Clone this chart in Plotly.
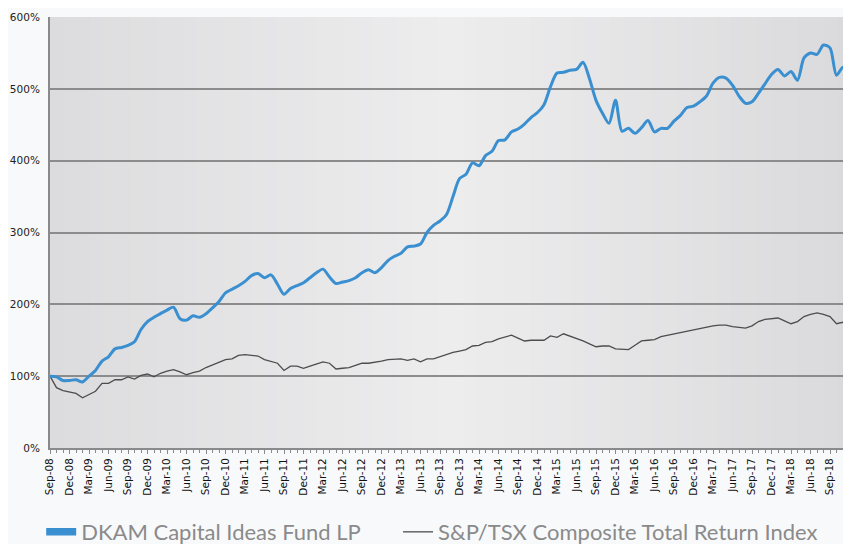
import plotly.graph_objects as go

# Monthly index: 0 = Sep-08 ... 124 = Jan-19
fund = [100, 99, 94, 94, 95, 92, 100, 108, 121, 127, 138, 140, 143, 148, 165, 176, 182, 187, 192, 196,
        180, 178, 184, 182, 187, 195, 204, 216, 221, 226, 232, 240, 243, 237, 241, 228, 214, 222, 226, 230,
        237, 244, 249, 238, 229, 231, 233, 237, 244, 248, 244, 251, 261, 267, 271, 280, 281, 284, 300, 310,
        316, 325, 350, 375, 381, 397, 393, 407, 413, 428, 429, 440, 444, 451, 460, 467, 478, 503, 522, 523,
        526, 527, 537, 514, 484, 466, 452, 484, 441, 445, 438, 446, 456, 440, 445, 445, 455, 463, 474, 476,
        482, 490, 508, 516, 515, 505, 490, 480, 482, 494, 507, 520, 527, 518, 524, 512, 543, 550, 548, 561,
        557, 519, 530, 500, 518]

index = [100, 84, 80, 78, 76, 70, 74, 79, 90, 90, 95, 95, 99, 96, 101, 103, 99, 104, 107, 109,
         106, 102, 105, 107, 112, 116, 119, 123, 124, 129, 130, 129, 128, 123, 120, 118, 108, 114, 114, 111,
         114, 117, 120, 118, 110, 111, 112, 115, 118, 118, 119, 121, 123, 124, 124, 122, 124, 120, 124, 124,
         127, 131, 133, 135, 137, 142, 143, 147, 148, 152, 155, 157, 153, 149, 150, 150, 150, 156, 154, 159,
         156, 152, 149, 145, 141, 142, 142, 138, 137, 137, 143, 149, 150, 151, 155, 157, 159, 160, 162, 165,
         167, 168, 170, 171, 171, 169, 168, 167, 170, 176, 179, 180, 181, 177, 173, 176, 183, 186, 188, 186,
         183, 173, 175, 166, 168]

quarter_labels = ["Sep-08", "Dec-08", "Mar-09", "Jun-09", "Sep-09", "Dec-09", "Mar-10", "Jun-10",
                  "Sep-10", "Dec-10", "Mar-11", "Jun-11", "Sep-11", "Dec-11", "Mar-12", "Jun-12",
                  "Sep-12", "Dec-12", "Mar-13", "Jun-13", "Sep-13", "Dec-13", "Mar-14", "Jun-14",
                  "Sep-14", "Dec-14", "Mar-15", "Jun-15", "Sep-15", "Dec-15", "Mar-16", "Jun-16",
                  "Sep-16", "Dec-16", "Mar-17", "Jun-17", "Sep-17", "Dec-17", "Mar-18", "Jun-18",
                  "Sep-18", "Dec-18"]

y_ticks = [0, 100, 200, 300, 400, 500, 600]
y_tick_labels = ["0%", "100%", "200%", "300%", "400%", "500%", "600%"]

months = list(range(len(fund)))
tick_positions = [3 * i for i in range(len(quarter_labels))]

BLUE = "#3a8fd0"
GREY_LINE = "#4d4d4d"

fig = go.Figure()

fig.add_trace(go.Scatter(x=months, y=index, mode="lines", name="S&P/TSX Composite Total Return Index",
                         line=dict(color=GREY_LINE, width=1.3), showlegend=False))
fig.add_trace(go.Scatter(x=months, y=fund, mode="lines", name="DKAM Capital Ideas Fund LP",
                         line=dict(color=BLUE, width=3, shape="spline", smoothing=0.8), showlegend=False))

# legend-only entries (two separate legends to reproduce the wide spacing)
fig.add_trace(go.Scatter(x=[None], y=[None], mode="lines", name="DKAM Capital Ideas Fund LP",
                         line=dict(color=BLUE, width=7.5), legend="legend"))
fig.add_trace(go.Scatter(x=[None], y=[None], mode="lines", name="S&P/TSX Composite Total Return Index",
                         line=dict(color=GREY_LINE, width=1.3), legend="legend2"))

# plot-area gradient background (left darker, middle lighter, right darker)
def lerp(c1, c2, t):
    return tuple(round(a + (b - a) * t) for a, b in zip(c1, c2))

stops = [(0.0, (220, 220, 222)), (0.5, (237, 237, 238)), (1.0, (218, 218, 220))]
n = 60
shapes = []
for i in range(n):
    f0, f1 = i / n, (i + 1) / n
    fm = (f0 + f1) / 2
    for (a, ca), (b, cb) in zip(stops[:-1], stops[1:]):
        if a <= fm <= b:
            c = lerp(ca, cb, (fm - a) / (b - a))
            break
    shapes.append(dict(type="rect", xref="x domain", yref="y domain", x0=f0, x1=f1 + 0.002, y0=0, y1=1,
                       fillcolor="rgb(%d,%d,%d)" % c, line=dict(width=0), layer="below"))

legend_font = dict(family="Lato, sans-serif", size=22, color="#8a8a8a")

fig.update_layout(
    width=843, height=536,
    margin=dict(l=42, r=0, t=9, b=96, autoexpand=False),
    paper_bgcolor="#f8f9fb",
    plot_bgcolor="#e6e6e7",
    shapes=shapes,
    font=dict(family="Open Sans, DejaVu Sans, sans-serif", color="#333333"),
    legend=dict(orientation="h", x=-0.011, xanchor="left", y=-0.195, yanchor="middle",
                font=legend_font, bgcolor="rgba(0,0,0,0)", itemwidth=30),
    legend2=dict(orientation="h", x=0.4345, xanchor="left", y=-0.195, yanchor="middle",
                 font=legend_font, bgcolor="rgba(0,0,0,0)", itemwidth=30),
    showlegend=True,
)

fig.update_xaxes(
    range=[0, 123.23],
    tickmode="array", tickvals=tick_positions, ticktext=quarter_labels,
    tickangle=-90, tickfont=dict(size=10.5, color="#111111", family="DejaVu Sans, sans-serif"),
    ticklabeloverflow="allow",
    ticks="outside", ticklen=4, tickcolor="#8a8a8a", tickwidth=1,
    minor=dict(dtick=1, tick0=0, ticks="outside", ticklen=2.5, tickcolor="#8a8a8a", tickwidth=1, showgrid=False),
    showgrid=False, zeroline=False,
    showline=True, linecolor="#8a8a8a", linewidth=2,
    fixedrange=True,
)

fig.update_yaxes(
    range=[0, 600],
    tickmode="array", tickvals=y_ticks, ticktext=y_tick_labels,
    tickfont=dict(size=10.5, color="#222222", family="DejaVu Sans, sans-serif"),
    showgrid=True, gridcolor="#8c8c8c", gridwidth=2,
    zeroline=False,
    showline=True, linecolor="#8a8a8a", linewidth=2,
    ticks="", ticklabelstandoff=6,
    fixedrange=True,
)

fig.write_html("out.html")
